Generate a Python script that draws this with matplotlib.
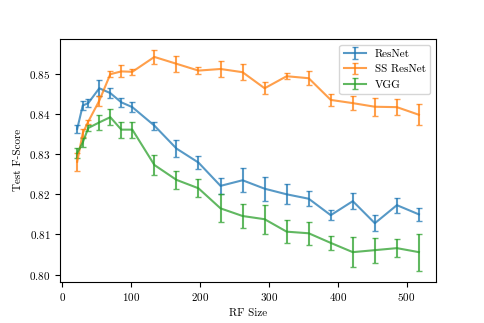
import matplotlib
matplotlib.use("Agg")
import matplotlib.pyplot as plt

rf_size = [22, 30, 38, 54, 70, 86, 102, 134, 166, 198, 230, 262, 294, 326, 358, 390, 422, 454, 486, 518]

resnet = [0.8363, 0.8421, 0.8427, 0.8464, 0.8452, 0.8429, 0.8417, 0.8371, 0.8314, 0.8279,
          0.8221, 0.8235, 0.8214, 0.8200, 0.8189, 0.8148, 0.8183, 0.8128, 0.8173, 0.8150]
resnet_err = [0.0010, 0.0011, 0.0010, 0.0020, 0.0012, 0.0012, 0.0012, 0.0010, 0.0020, 0.0017,
              0.0019, 0.0030, 0.0030, 0.0025, 0.0018, 0.0013, 0.0020, 0.0020, 0.0019, 0.0016]

ss_resnet = [0.8281, 0.8352, 0.8381, 0.8433, 0.8499, 0.8506, 0.8505, 0.8542, 0.8525, 0.8508,
             0.8512, 0.8504, 0.8464, 0.8494, 0.8489, 0.8435, 0.8427, 0.8418, 0.8417, 0.8398]
ss_resnet_err = [0.0022, 0.0010, 0.0005, 0.0012, 0.0008, 0.0015, 0.0008, 0.0017, 0.0020, 0.0009,
                 0.0020, 0.0020, 0.0015, 0.0007, 0.0017, 0.0014, 0.0017, 0.0022, 0.0020, 0.0026]

vgg = [0.8303, 0.8329, 0.8365, 0.8379, 0.8392, 0.8361, 0.8361, 0.8273, 0.8236, 0.8215,
       0.8165, 0.8146, 0.8138, 0.8107, 0.8103, 0.8079, 0.8056, 0.8061, 0.8066, 0.8056]
vgg_err = [0.0013, 0.0010, 0.0008, 0.0019, 0.0020, 0.0020, 0.0020, 0.0026, 0.0023, 0.0022,
           0.0035, 0.0030, 0.0036, 0.0028, 0.0029, 0.0018, 0.0037, 0.0031, 0.0022, 0.0046]

plt.rcParams["font.family"] = "serif"
plt.rcParams["font.serif"] = ["cmr10", "DejaVu Serif"]
plt.rcParams["mathtext.fontset"] = "cm"
plt.rcParams["axes.formatter.use_mathtext"] = True

fig = plt.figure(figsize=(4.85, 3.23), dpi=100)
ax = fig.add_subplot(111)
fig.subplots_adjust(left=0.124, right=0.899, top=0.879, bottom=0.128)

ax.errorbar(rf_size, resnet, yerr=resnet_err, label="ResNet", capsize=2.5, alpha=0.75, lw=1.5)
ax.errorbar(rf_size, ss_resnet, yerr=ss_resnet_err, label="SS ResNet", capsize=2.5, alpha=0.75, lw=1.5)
ax.errorbar(rf_size, vgg, yerr=vgg_err, label="VGG", capsize=2.5, alpha=0.75, lw=1.5)

ax.set_xlabel("RF Size", fontsize=8)
ax.set_ylabel("Test F-Score", fontsize=8)
ax.tick_params(labelsize=8)
ax.legend(loc="upper right", fontsize=8)

plt.savefig("out.png", dpi=100)
plt.close()
